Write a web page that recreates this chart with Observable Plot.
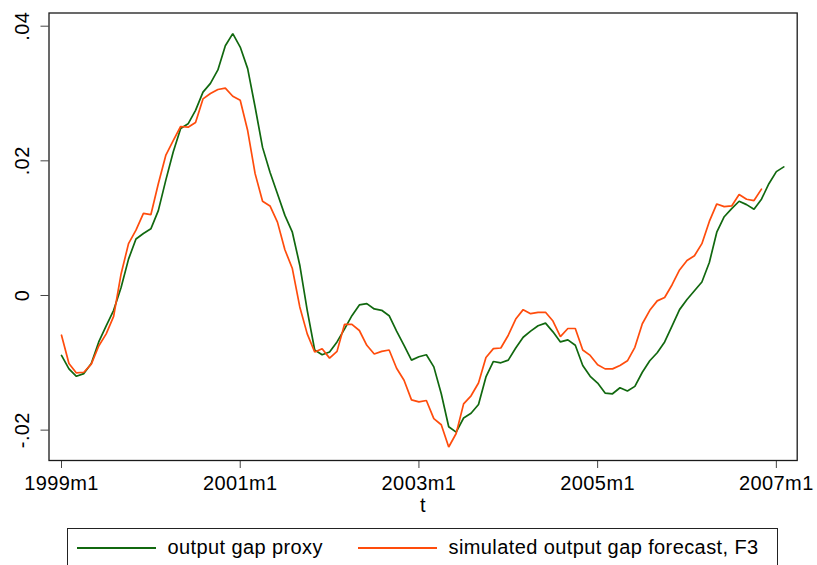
<!DOCTYPE html>
<html>
<head>
<meta charset="utf-8">
<script src="https://cdn.jsdelivr.net/npm/d3@7"></script>
<script src="https://cdn.jsdelivr.net/npm/@observablehq/plot@0.6"></script>
<style>
  html, body { margin: 0; padding: 0; background: #fff; }
  body { position: relative; width: 817px; height: 565px; overflow: hidden;
         font-family: "Liberation Sans", Arial, Helvetica, sans-serif; }
  #legend { position: absolute; left: 66.5px; top: 528px; width: 711px; height: 60px;
            border: 1.2px solid #222; box-sizing: border-box; }
  .item { position: absolute; top: 7px; display: flex; align-items: center; font-size: 20px;
          letter-spacing: 0.4px; color: #000; }
  .swatch { display: inline-block; width: 79px; height: 0; border-top: 2px solid; margin-right: 12px; }
</style>
</head>
<body>
<div id="chart"></div>
<div id="legend"></div>
<script>
// ---- data ----
const startYear = 1999, startMonth = 1;
const seriesNames = ["output gap proxy", "simulated output gap forecast, F3"];
const seriesColors = ["#11680f", "#ff4c0c"];
const outputGapProxy = [
  -0.0089, -0.0109, -0.0120, -0.0116, -0.0101, -0.0069, -0.0045, -0.0022, 0.0012, 0.0054,
   0.0084,  0.0092,  0.0099,  0.0126,  0.0171,  0.0213,  0.0248,  0.0255, 0.0275, 0.0302,
   0.0315,  0.0335,  0.0371,  0.0389,  0.0369,  0.0337,  0.0280,  0.0220, 0.0183, 0.0151,
   0.0119,  0.0094,  0.0045, -0.0022, -0.0081, -0.0088, -0.0084, -0.0069, -0.0050, -0.0030,
  -0.0014, -0.0012, -0.0020, -0.0022, -0.0030, -0.0053, -0.0074, -0.0096, -0.0091, -0.0088,
  -0.0106, -0.0146, -0.0195, -0.0203, -0.0182, -0.0175, -0.0162, -0.0121, -0.0098, -0.0100,
  -0.0096, -0.0078, -0.0062, -0.0053, -0.0045, -0.0041, -0.0054, -0.0069, -0.0066, -0.0074,
  -0.0104, -0.0120, -0.0130, -0.0145, -0.0146, -0.0137, -0.0142, -0.0135, -0.0114, -0.0097,
  -0.0085, -0.0069, -0.0045, -0.0021, -0.0006,  0.0007,  0.0020,  0.0049, 0.0094, 0.0117,
   0.0129,  0.0140,  0.0135,  0.0128,  0.0143,  0.0166,  0.0184,  0.0191
];
const simulatedForecastF3 = [
  -0.0059, -0.0101, -0.0115, -0.0114, -0.0102, -0.0075, -0.0057, -0.0031, 0.0032, 0.0077,
   0.0097,  0.0122,  0.0120,  0.0166,  0.0208,  0.0230,  0.0251,  0.0250, 0.0257, 0.0292,
   0.0300,  0.0306,  0.0308,  0.0296,  0.0290,  0.0245,  0.0181,  0.0140, 0.0133, 0.0109,
   0.0068,  0.0040, -0.0017, -0.0057, -0.0084, -0.0079, -0.0093, -0.0083, -0.0043, -0.0043,
  -0.0052, -0.0074, -0.0087, -0.0083, -0.0081, -0.0108, -0.0126, -0.0155, -0.0158, -0.0156,
  -0.0183, -0.0192, -0.0225, -0.0205, -0.0161, -0.0149, -0.0130, -0.0092, -0.0079, -0.0078,
  -0.0059, -0.0035, -0.0021, -0.0027, -0.0025, -0.0025, -0.0038, -0.0061, -0.0049, -0.0049,
  -0.0081, -0.0089, -0.0103, -0.0109, -0.0109, -0.0104, -0.0097, -0.0077, -0.0042, -0.0022,
  -0.0008, -0.0003,  0.0016,  0.0038,  0.0052,  0.0059,  0.0077,  0.0110, 0.0136, 0.0132,
   0.0133,  0.0150,  0.0143,  0.0141,  0.0158
];
const xTickLabels = ["1999m1", "2001m1", "2003m1", "2005m1", "2007m1"];
const yTickValues = [-0.02, 0, 0.02, 0.04];
const yTickLabels = ["-.02", "0", ".02", ".04"];
const xAxisTitle = "t";

// ---- build table ----
const monthIndex = (label) => {
  const [y, m] = label.split("m").map(Number);
  return (y - startYear) * 12 + (m - startMonth);
};
const rows = [];
[outputGapProxy, simulatedForecastF3].forEach((vals, s) => {
  vals.forEach((v, i) => rows.push({t: i, value: v, series: seriesNames[s]}));
});
const xTicks = xTickLabels.map(monthIndex);
const fmtX = new Map(xTicks.map((t, i) => [t, xTickLabels[i]]));
const fmtY = new Map(yTickValues.map((v, i) => [v, yTickLabels[i]]));

const font = '"Liberation Sans", Arial, Helvetica, sans-serif';
const chart = Plot.plot({
  width: 817,
  height: 520,
  marginLeft: 48.5,
  marginRight: 20.3,
  marginTop: 12.5,
  marginBottom: 60,
  style: {background: "#fff", fontFamily: font, fontSize: "20px", color: "#000", letterSpacing: "0.4px"},
  x: {domain: [-1.68, 98.8]},
  y: {domain: [-0.02451, 0.04196]},
  color: {domain: seriesNames, range: seriesColors},
  marks: [
    Plot.axisX({ticks: xTicks, tickFormat: d => fmtX.get(d), tickSize: 8, tickPadding: 7,
                stroke: "#444", fontSize: 20, label: null}),
    Plot.axisY({ticks: yTickValues, tickSize: 8, tickFormat: () => "", stroke: "#444", label: null}),
    Plot.text(yTickValues, {y: d => d, text: d => fmtY.get(d), frameAnchor: "left",
                            rotate: -90, dx: -26.5, textAnchor: "middle", lineAnchor: "middle",
                            fontSize: 20, fill: "#000"}),
    Plot.text([xAxisTitle], {frameAnchor: "bottom", text: d => d, dy: 45, lineAnchor: "middle",
                             fontSize: 20, fill: "#000"}),
    Plot.line(rows, {x: "t", y: "value", z: "series", stroke: "series", strokeWidth: 1.7,
                     strokeLinejoin: "miter"}),
    Plot.frame({stroke: "#1a1a1a", strokeWidth: 1.3})
  ]
});
document.getElementById("chart").appendChild(chart);

// ---- legend ----
const legend = document.getElementById("legend");
const legendLefts = [9, 290];
seriesNames.forEach((name, i) => {
  const item = document.createElement("div");
  item.className = "item";
  item.style.left = legendLefts[i] + "px";
  const sw = document.createElement("span");
  sw.className = "swatch";
  sw.style.borderTopColor = seriesColors[i];
  item.appendChild(sw);
  item.appendChild(document.createTextNode(name));
  legend.appendChild(item);
});
</script>
</body>
</html>
